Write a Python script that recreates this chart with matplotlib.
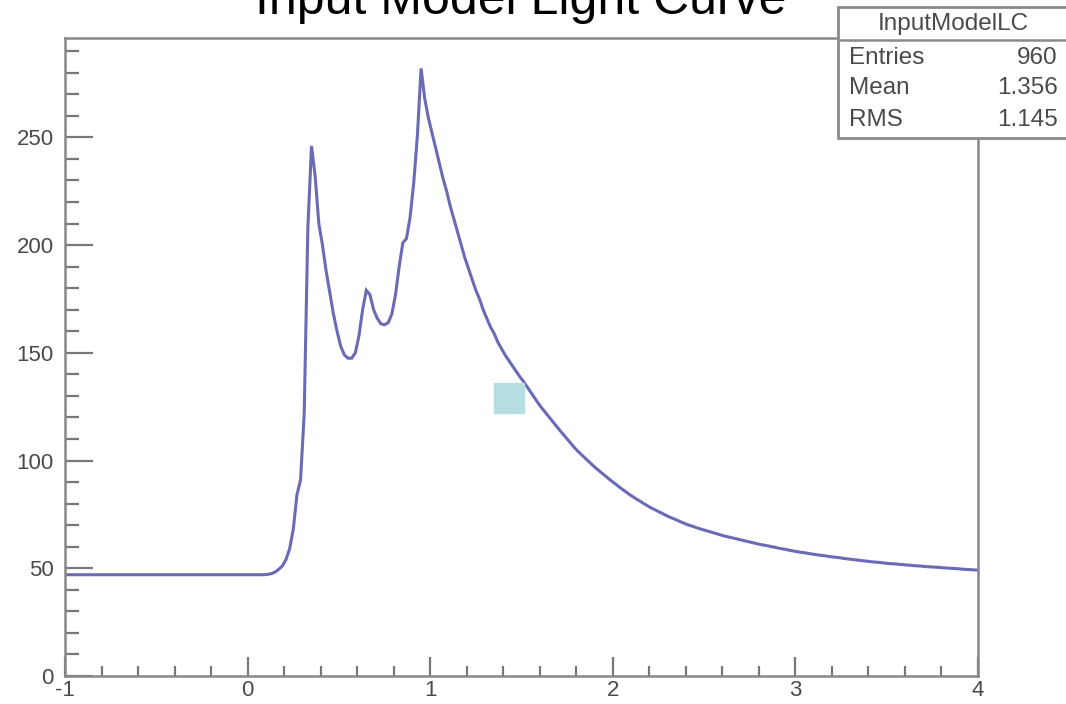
import numpy as np
import matplotlib
matplotlib.use("Agg")
import matplotlib.pyplot as plt
from matplotlib.patches import Rectangle
from matplotlib.lines import Line2D
from matplotlib.ticker import MultipleLocator

plt.rcParams['font.family'] = ['Liberation Sans', 'DejaVu Sans']

# ---- data -------------------------------------------------------------
x_range = (-1.0, 4.0)

# bin contents, 0.02 wide bins from -1 to 4
flux = [
    # -1.00 .. 0.10 : quiescent level
    47, 47, 47, 47, 47, 47, 47, 47, 47, 47, 47,
    47, 47, 47, 47, 47, 47, 47, 47, 47, 47, 47,
    47, 47, 47, 47, 47, 47, 47, 47, 47, 47, 47,
    47, 47, 47, 47, 47, 47, 47, 47, 47, 47, 47,
    47, 47, 47, 47, 47, 47, 47, 47, 47, 47, 47,
    # 0.10 .. 0.30 : rise
    47.2, 47.5, 48.2, 49.5, 51, 54, 59, 68, 84, 91,
    # 0.30 .. 1.00 : first peak, shoulder, main peak
    122, 208, 246, 232, 210, 200, 188, 178, 168, 160,
    153, 149, 147.5, 147.5, 150, 158, 170, 179, 177, 170,
    166, 163.5, 163, 164, 168, 177, 190, 201, 203, 213,
    229, 251, 282, 268, 259,
    # 1.00 .. 4.00 : decay
    252, 245, 238, 231, 225,
    218, 212, 206, 200, 194,
    189, 184, 179, 175, 170,
    166, 162, 159, 155, 152,
    149, 146.5, 144, 141.5, 139,
    136.8, 134.3, 131.8, 129.3, 126.8,
    124.5, 122.4, 120.3, 118.2, 116.1,
    114, 112, 110, 108, 106,
    104.2, 102.6, 101, 99.4, 97.8,
    96.3, 94.9, 93.5, 92.1, 90.7,
    89.4, 88.1, 86.8, 85.6, 84.3,
    83.2, 82.1, 81.1, 80, 79,
    78, 77.2, 76.3, 75.5, 74.6,
    73.8, 73.1, 72.4, 71.6, 70.9,
    70.2, 69.7, 69.1, 68.5, 68,
    67.5, 67, 66.5, 66, 65.5,
    65, 64.6, 64.2, 63.8, 63.4,
    63, 62.6, 62.2, 61.8, 61.4,
    61, 60.7, 60.4, 60, 59.7,
    59.3, 59, 58.7, 58.3, 58,
    57.7, 57.4, 57.2, 56.9, 56.6,
    56.4, 56.1, 55.9, 55.7, 55.4,
    55.2, 55, 54.8, 54.5, 54.3,
    54.1, 53.9, 53.7, 53.5, 53.3,
    53.1, 52.9, 52.8, 52.6, 52.4,
    52.2, 52.1, 52, 51.8, 51.7,
    51.5, 51.4, 51.2, 51.1, 51,
    50.8, 50.7, 50.6, 50.5, 50.4,
    50.2, 50.1, 50, 49.9, 49.8,
    49.6, 49.5, 49.4, 49.3, 49.2,
]

marker_point = (1.43, 129)

title = "Input Model Light Curve"
stats_name = "InputModelLC"
stats_labels = ["Entries", "Mean", "RMS"]
stats_values = ["960", "1.356", "1.145"]

x_major = [-1, 0, 1, 2, 3, 4]
y_major = [0, 50, 100, 150, 200, 250]

# ---- figure -------------------------------------------------------------
W, H = 1066, 704
fig = plt.figure(figsize=(W / 100, H / 100), dpi=100)
fig.patch.set_facecolor("white")

ax = fig.add_axes([65 / W, 28 / H, 913 / W, 638 / H])

flux_arr = np.asarray(flux, dtype=float)
edges = np.linspace(x_range[0], x_range[1], len(flux_arr) + 1)
centers = 0.5 * (edges[:-1] + edges[1:])

# light curve drawn as a line through the bin contents
ax.plot(centers, flux_arr, color="#6a6ab6", linewidth=2.2,
        solid_joinstyle="miter", zorder=2)

ax.plot([marker_point[0]], [marker_point[1]], marker="s", markersize=21,
        color="#b6dde0", linestyle="none", zorder=3)

ax.set_xlim(*x_range)
ax.set_ylim(0, flux_arr.max() * 1.05)

ax.set_xticks(x_major)
ax.set_xticklabels([str(v) for v in x_major])
ax.set_yticks(y_major)
ax.set_yticklabels([str(v) for v in y_major])
ax.xaxis.set_minor_locator(MultipleLocator(0.2))
ax.yaxis.set_minor_locator(MultipleLocator(10))

ax.tick_params(axis="both", which="both", direction="in", top=False, right=False,
               color="#777777", width=1.6, labelsize=16, labelcolor="#4a4a4a")
ax.tick_params(axis="x", which="major", length=14, pad=3)
ax.tick_params(axis="x", which="minor", length=7)
ax.tick_params(axis="y", which="major", length=20, pad=8)
ax.tick_params(axis="y", which="minor", length=10)

for side in ax.spines.values():
    side.set_color("#888888")
    side.set_linewidth(1.8)

# title
fig.text(521 / W, 1 - 14 / H, title, ha="center", va="baseline",
         fontsize=36, color="black")

# statistics box
box_left, box_top, box_bottom = 838 / W, 1 - 7 / H, 1 - 138 / H
fig.add_artist(Rectangle((box_left, box_bottom), 0.3, box_top - box_bottom,
                         transform=fig.transFigure, facecolor="white",
                         edgecolor="#8a8a8a", linewidth=2.0, zorder=5))
fig.add_artist(Line2D([box_left, 1.0], [1 - 40 / H] * 2, transform=fig.transFigure,
                      color="#8a8a8a", linewidth=1.8, zorder=6))
fig.text(953 / W, 1 - 24 / H, stats_name, ha="center", va="center",
         fontsize=17.5, color="#4a4a4a", zorder=7)
row_y = [58, 88, 120]
for lab, val, yy in zip(stats_labels, stats_values, row_y):
    fig.text(849 / W, 1 - yy / H, lab, ha="left", va="center",
             fontsize=17.5, color="#4a4a4a", zorder=7)
    fig.text(1058 / W, 1 - yy / H, val, ha="right", va="center",
             fontsize=17.5, color="#4a4a4a", zorder=7)

fig.savefig("out.png", dpi=100, facecolor="white")
